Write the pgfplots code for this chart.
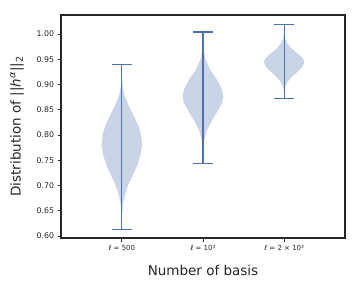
\documentclass[border=0pt]{standalone}
\usepackage{pgfplots}
\pgfplotsset{compat=1.18}
\usepackage{pgfplotstable}
\usepackage{fontspec}
\setmainfont{DejaVu Sans}
\definecolor{vfill}{RGB}{201,213,231}
\definecolor{vline}{HTML}{4C72B0}
\definecolor{axc}{HTML}{262626}

\pgfplotstableread{
y w
0.613 0
0.640 0.003
0.660 0.012
0.680 0.035
0.700 0.075
0.720 0.135
0.740 0.190
0.760 0.230
0.780 0.250
0.800 0.238
0.820 0.200
0.840 0.140
0.860 0.080
0.880 0.030
0.900 0.008
0.920 0.002
0.940 0
}\vone

\pgfplotstableread{
y w
0.743 0
0.770 0.003
0.790 0.015
0.810 0.050
0.830 0.115
0.850 0.190
0.865 0.240
0.876 0.250
0.890 0.235
0.910 0.170
0.930 0.085
0.950 0.030
0.970 0.008
0.990 0.002
1.004 0
}\vtwo

\pgfplotstableread{
y w
0.872 0
0.885 0.003
0.895 0.012
0.905 0.040
0.915 0.095
0.925 0.165
0.935 0.225
0.944 0.250
0.952 0.230
0.960 0.175
0.970 0.100
0.980 0.045
0.990 0.015
1.000 0.004
1.018 0
}\vthree

\begin{document}
\begin{tikzpicture}
\useasboundingbox (0,0) rectangle (360bp,288bp);
\begin{axis}[
  at={(61bp,50bp)}, anchor=south west,
  scale only axis, width=284bp, height=223bp,
  xmin=0.25, xmax=3.75, ymin=0.596, ymax=1.0376,
  xtick={1,2,3},
  xticklabels={ℓ = 500, ℓ = 10³, ℓ = 2 × 10³},
  ytick={0.60,0.65,0.70,0.75,0.80,0.85,0.90,0.95,1.00},
  /pgf/number format/.cd, fixed, fixed zerofill, precision=2, assume math mode=true,
  /pgfplots/.cd,
  tick align=outside, major tick length=3.5bp,
  xtick pos=bottom, ytick pos=left,
  tick style={axc, line width=0.8pt},
  axis line style={axc, line width=1.25pt},
  yticklabel style={font=\fontsize{7.8bp}{9bp}\selectfont, text=axc},
  xticklabel style={font=\fontsize{7bp}{8bp}\selectfont, text=axc},
  xlabel={Number of basis},
  ylabel={Distribution of ||\textit{h}\textsuperscript{\textit{α}}||\textsubscript{2}},
  label style={font=\fontsize{13.5bp}{16bp}\selectfont, text=axc},
  xlabel style={at={(axis description cs:0.5,-0.166)}, anchor=base},
  ylabel style={at={(axis description cs:-0.155,0.5)}, anchor=center, rotate=0},
  clip=false,
]
\addplot[fill=vfill, draw=none] table[x expr=1+\thisrow{w}, y=y]{\vone};
\addplot[fill=vfill, draw=none] table[x expr=1-\thisrow{w}, y=y]{\vone};
\addplot[fill=vfill, draw=none] table[x expr=2+\thisrow{w}, y=y]{\vtwo};
\addplot[fill=vfill, draw=none] table[x expr=2-\thisrow{w}, y=y]{\vtwo};
\addplot[fill=vfill, draw=none] table[x expr=3+\thisrow{w}, y=y]{\vthree};
\addplot[fill=vfill, draw=none] table[x expr=3-\thisrow{w}, y=y]{\vthree};
% stems and caps
\addplot[vline, line width=1.2pt] coordinates {(1,0.613) (1,0.940)};
\addplot[vline, line width=1.2pt] coordinates {(0.875,0.613) (1.125,0.613)};
\addplot[vline, line width=1.2pt] coordinates {(0.875,0.940) (1.125,0.940)};
\addplot[vline, line width=1.2pt] coordinates {(2,0.743) (2,1.004)};
\addplot[vline, line width=1.2pt] coordinates {(1.875,0.743) (2.125,0.743)};
\addplot[vline, line width=1.2pt] coordinates {(1.875,1.004) (2.125,1.004)};
\addplot[vline, line width=1.2pt] coordinates {(3,0.872) (3,1.018)};
\addplot[vline, line width=1.2pt] coordinates {(2.875,0.872) (3.125,0.872)};
\addplot[vline, line width=1.2pt] coordinates {(2.875,1.018) (3.125,1.018)};
\end{axis}
\end{tikzpicture}
\end{document}
